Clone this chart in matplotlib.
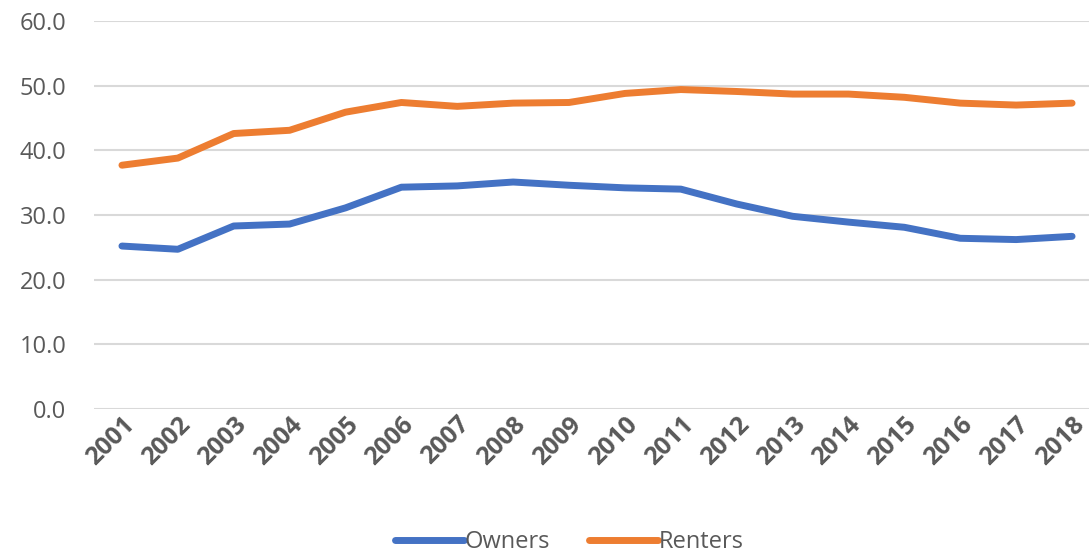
import matplotlib
matplotlib.use('Agg')
from matplotlib import pyplot as plt

years = [str(y) for y in range(2001, 2019)]
owners = [25.2, 24.7, 28.3, 28.6, 31.1, 34.3, 34.5, 35.1, 34.6, 34.2,
          34.0, 31.7, 29.8, 28.9, 28.1, 26.4, 26.2, 26.7]
renters = [37.7, 38.8, 42.6, 43.1, 45.9, 47.4, 46.8, 47.3, 47.4, 48.8,
           49.4, 49.1, 48.7, 48.7, 48.2, 47.3, 47.0, 47.3]

plt.rcParams['font.family'] = ['Open Sans', 'DejaVu Sans']
TEXT = '#595959'

fig = plt.figure(figsize=(10.89, 5.53), dpi=100)
ax = fig.add_axes([94 / 1089, 144 / 553, 1006 / 1089, 388 / 553])

x = range(len(years))
ax.plot(x, owners, color='#4472C4', lw=5, solid_capstyle='round', label='Owners')
ax.plot(x, renters, color='#ED7D31', lw=5, solid_capstyle='round', label='Renters')

ax.set_xlim(-0.5, len(years) - 0.5)
ax.set_ylim(0, 60)
ax.set_yticks(range(0, 61, 10))
ax.set_yticklabels([f'{v:.1f}' for v in range(0, 61, 10)], fontsize=17)
ax.set_xticks(list(x))
ax.set_xticklabels(years, rotation=45, ha='right', rotation_mode='anchor',
                   fontsize=18, fontweight='bold')

ax.grid(axis='y', color='#D9D9D9', lw=1.5)
ax.set_axisbelow(True)
for s in ax.spines.values():
    s.set_visible(False)
ax.tick_params(axis='both', length=0, colors=TEXT)
ax.tick_params(axis='y', pad=20)
ax.tick_params(axis='x', pad=2)

fig.legend(loc='lower center', bbox_to_anchor=(0.523, -0.04), ncol=2, frameon=False,
           labelcolor=TEXT, handlelength=2.9, handletextpad=0.05,
           columnspacing=1.65, prop={'size': 17})

fig.savefig('out.png', dpi=100)
